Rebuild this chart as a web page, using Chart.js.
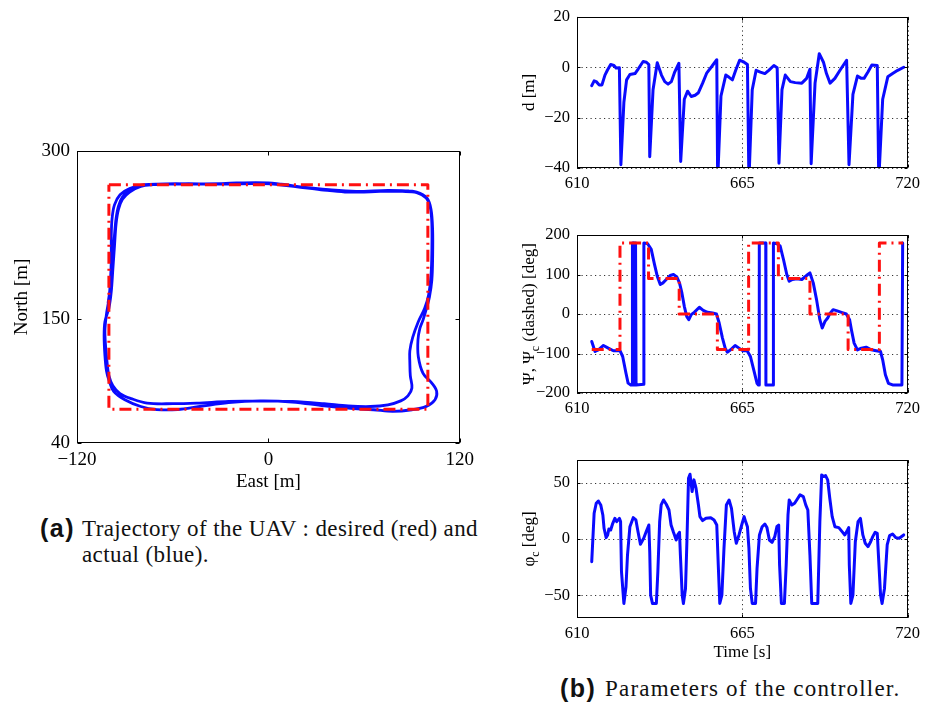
<!DOCTYPE html>
<html>
<head>
<meta charset="utf-8">
<script src="https://cdn.jsdelivr.net/npm/chart.js@4.4.1/dist/chart.umd.min.js"></script>
<style>
  body { margin: 0; background: #fff; width: 926px; height: 709px; position: relative; overflow: hidden; }
  canvas { position: absolute; }
  .cap { position: absolute; font-family: "Liberation Serif", serif; color: #111; white-space: nowrap; }
  .tag { font-family: "Liberation Sans", Arial, sans-serif; font-weight: bold; letter-spacing: 1.5px; }
</style>
</head>
<body>
<canvas id="traj"></canvas>
<canvas id="dist"></canvas>
<canvas id="heading"></canvas>
<canvas id="roll"></canvas>

<div class="cap tag" style="left:40px;top:514px;font-size:25px">(a)</div>
<div class="cap" style="left:82px;top:516px;font-size:23px;letter-spacing:0.4px">Trajectory of the UAV : desired (red) and</div>
<div class="cap" style="left:82px;top:542px;font-size:23px;letter-spacing:0.4px">actual (blue).</div>
<div class="cap tag" style="left:560px;top:674px;font-size:25px">(b)</div>
<div class="cap" style="left:605px;top:676px;font-size:23px;letter-spacing:1.2px">Parameters of the controller.</div>

<script>
// tick values
const timeTicks = [610, 665, 720];
const dTicks = [-40, -20, 0, 20];
const psiTicks = [-200, -100, 0, 100, 200];
const phiTicks = [-50, 0, 50];
const eastTicks = [-120, 0, 120];
const northTicks = [40, 150, 300];

// desired square path (waypoints)
const desiredEast = [-100, 100, 100, -100, -100];
const desiredNorth = [270, 270, 70, 70, 270];

// flown path, about two and a half laps (counter-clockwise)
const actualEast = [
  // lap 1
  88, 75, 60, 48, 33, 18, 3, -12, -30, -50, -66, -78, -87, -93, -96.5, -98, -98.5, -98.5, -99, -100,
  -101.5, -102.5, -102, -101, -100, -97.5, -93, -86, -76, -60, -45, -25, -5, 15, 35, 50, 64, 75, 83, 87.5,
  90, 89, 88.7, 88.7, 90.5, 94, 98, 100.5, 102, 102.5, 102.5, 101.5, 99, 93,
  // lap 2
  84, 70, 55, 40, 25, 8, -10, -30, -50, -62, -72, -80, -87, -91.5, -94, -95.5, -96.5, -97.5, -98.5, -100,
  -102.5, -103, -102.5, -101.5, -100, -97, -90, -80, -70, -57, -43, -25, -5, 15, 35, 50, 66, 78, 90, 99,
  104.5, 105.5, 102.5, 97, 94, 93.8, 95, 97, 99.2, 101, 102.5, 103, 103, 102, 99.5, 93,
  // lap 3
  84, 70, 55, 38, 20, 0, -20, -40, -58, -70, -80, -87, -91.5, -94, -95.5, -96.5, -97.5, -98.5, -100.5
];
const actualNorth = [
  264.5, 265, 264, 263.5, 265.5, 268, 270.5, 271.5, 271, 270.5, 270.5, 270, 266.5, 261, 252, 240, 225, 205, 185, 168,
  155, 140, 125, 110, 100, 91, 84, 79.5, 75.5, 75, 75.5, 77, 77.5, 77, 75, 73, 72.5, 74, 77.5, 82,
  89, 100, 112, 122, 134, 148, 160, 172, 190, 210, 235, 250, 258, 263,
  264, 264, 263.5, 265, 267, 270.5, 271, 270.5, 271, 270.5, 270, 268.5, 263.5, 257, 248, 235, 215, 195, 175, 160,
  148, 135, 118, 104, 96, 86, 78.5, 72.5, 69.8, 69.8, 72.5, 76, 77.5, 76.5, 73, 71, 69.6, 68.2, 69.6, 72.6,
  78.5, 86, 93.3, 102, 117, 131.8, 142, 149.6, 160, 170, 185, 205, 230, 248, 258, 263.5,
  264.5, 264.5, 264, 265.5, 268, 271.5, 271.5, 270.5, 271, 270.5, 269, 265, 259, 251, 240, 225, 205, 185, 165
];

// cross-track distance d [m]
const dTime = [
  614.9, 615.7, 616.4, 617.4, 618.3, 619.3, 620.1, 621.2, 622.3, 623.0, 624.1, 624.6, 625.6, 626.5, 627.6,
  629.3, 630.4, 632.0, 633.1, 633.9, 634.2, 635.3, 636.7, 638.1, 639.2, 640.3, 641.4, 642.5, 643.9, 644.5,
  645.7, 646.8, 648.0, 649.3, 650.4, 651.8, 653.2, 654.9, 656.5, 656.8, 657.9, 659.5, 660.6, 661.7, 662.8,
  664.1, 665.6, 666.7, 667.2, 668.3, 669.6, 671.0, 672.5, 673.8, 675.5, 676.6, 677.2, 678.2, 679.3, 681.0,
  682.6, 684.8, 686.4, 687.5, 687.9, 689.2, 690.6, 692.0, 693.0, 694.2, 695.8, 697.5, 699.7, 700.5, 701.8,
  703.3, 704.6, 705.5, 706.8, 708.1, 709.9, 710.4, 711.7, 713.4, 715.0, 716.7, 718.7
];
const dValue = [
  -7.3, -5.4, -5.7, -7, -7, -3.1, -1.2, 1.1, 0.7, -0.3, -0.2, -38.7, -13.9, -5, -2.9,
  -2.5, -0.6, 2.3, 2, 1.1, -35.5, -8.9, 1.8, -3.1, -5.7, -6.7, -5.7, -1.9, 1.6, -37.4,
  -12.7, -9.5, -11.6, -11.1, -10.1, -6.3, -2.2, 0.4, 3, -45, -11.4, -3.1, -4, -5, -1.2,
  2.8, 2, 1.1, -45, -8.9, -1.2, -1.9, -2.5, -1.2, 0.7, -0.2, -38.1, -8.9, -3.1, -5.7,
  -6.1, -6.3, -4.4, -0.8, -38.3, -6.3, 5.4, 2, -2.5, -6.3, -4.4, -1.2, 2.8, -38.7, -10.8,
  -3.5, -4.4, -4.4, -1.9, 0.9, 0.7, -45, -12.7, -3.8, -2.5, -1.2, 0
];

// heading Psi [deg]
const psiTime = [
  614.9, 616.0, 617.1, 618.8, 620.4, 622.1, 624.3, 625.2, 626.3, 627.0, 627.9, 628.4, 628.45, 628.9, 628.95,
  629.3, 629.35, 629.6, 629.65, 632.2, 632.25, 633.5, 634.7, 635.8, 636.7, 637.7, 638.6, 639.7, 641.0, 642.1,
  643.2, 644.1, 644.9, 645.7, 646.5, 647.2, 648.0, 649.0, 650.7, 652.0, 653.4, 655.1, 656.4, 657.3, 658.4,
  659.3, 660.0, 661.1, 662.6, 663.9, 665.2, 666.6, 667.7, 668.8, 669.9, 670.3, 670.6, 670.65, 672.8, 672.85,
  675.3, 675.35, 676.5, 677.6, 678.7, 679.8, 680.6, 681.7, 683.1, 684.8, 686.8, 687.5, 688.6, 689.7, 690.8,
  691.6, 692.5, 693.4, 694.1, 695.2, 696.3, 698.0, 699.6, 700.7, 701.3, 702.2, 703.3, 704.6, 706.2, 707.9,
  709.5, 711.0, 711.7, 712.6, 713.6, 715.0, 718.1, 718.35
];
const psiValue = [
  -69.5, -95, -90.7, -79.7, -86.4, -93, -93, -107.6, -150, -175, -179.7, -180, 180, 180, -180,
  -180, 180, 180, -180, -178, 180, 178, 163.6, 125, 95.8, 74.6, 78.8, 87.3, 97.5, 100,
  94, 78.8, 53.4, 19.5, -6, -14.4, -1.7, 4.2, 17, 9.3, 4.2, 2.5, 0, -22.9, -61,
  -86.4, -96.6, -90.7, -79.7, -86.4, -93, -93, -107.6, -141.5, -175.4, -179.7, -180, 180, 180, -180,
  -180, 180, 178, 172, 138, 100, 83, 87.3, 89, 87.3, 100, 104, 78.8, 36.4, -14.4,
  -35.6, -18.6, -10.2, 0.8, 11, 8.5, 4.2, 0, -14.4, -39.8, -73.7, -90.7, -86.4, -83.9, -90.7,
  -93, -95, -116, -154, -175.4, -179.7, -179.7, 180
];

// commanded heading Psi_c [deg], held between switches
const psiCmdTime = [614.9, 624.3, 633.8, 644.0, 656.7, 667.1, 677.0, 687.5, 700.2, 710.6, 718.5];
const psiCmdValue = [-90, 180, 90, 0, -90, 180, 90, 0, -90, 180, 180];

// commanded roll phi_c [deg]
const phiTime = [
  614.9, 615.7, 616.4, 617.1, 617.9, 618.6, 619.0, 619.7, 620.2, 620.6, 621.2, 621.9, 622.6, 623.2, 624.1,
  624.5, 624.8, 625.6, 626.3, 626.8, 627.6, 628.7, 629.6, 630.3, 631.1, 632.2, 633.1, 633.9, 634.2, 634.5,
  635.1, 636.4, 636.9, 637.5, 638.0, 638.8, 639.7, 640.6, 641.3, 642.1, 643.0, 643.5, 644.1, 644.4, 645.0,
  645.4, 646.1, 646.6, 647.1, 647.6, 648.3, 648.9, 649.6, 650.4, 650.9, 651.8, 652.9, 654.5, 655.6, 656.5,
  657.0, 657.5, 658.2, 658.9, 659.7, 660.6, 661.4, 662.3, 663.0, 663.9, 664.8, 665.6, 666.1, 666.7, 667.2,
  667.7, 668.3, 669.4, 669.9, 670.7, 671.6, 672.5, 673.2, 674.0, 674.9, 675.8, 676.5, 677.1, 677.4, 678.0,
  679.0, 679.6, 680.2, 680.6, 681.5, 682.4, 683.1, 684.2, 685.3, 686.1, 686.8, 687.5, 688.1, 690.1, 690.8,
  691.4, 692.1, 692.7, 693.4, 694.1, 694.9, 695.8, 697.1, 698.2, 699.1, 700.0, 700.4, 700.6, 701.1, 701.8,
  702.6, 703.5, 704.3, 705.1, 705.9, 706.8, 707.7, 708.4, 709.2, 709.9, 710.4, 711.0, 711.5, 712.3, 713.2,
  714.0, 715.0, 716.1, 717.2, 718.7
];
const phiValue = [
  -20.1, 22.8, 31.7, 33.7, 30.2, 21.3, 9.5, 1.2, 3.6, 8.9, 8, 13.9, 18.3, 15.4, 18.3,
  15.4, -29, -57.1, -42.3, -14.2, 10.9, 18.9, 16.9, 6.5, -4.7, 0.6, 7.1, 12.4, -11.2, -49.7,
  -57.1, -57.1, -29, 15.4, 30.2, 34.6, 30.8, 25.7, 12.4, 5.9, -0.9, 3.6, 5.9, -14.2, -49.7,
  -57.1, -43.8, 0.6, 53.8, 57.4, 42, 52.4, 45, 30.2, 19.8, 16.3, 18.3, 18.9, 16.9, 12.4,
  -23, -57.1, -49.7, -8.3, 30.2, 34.6, 27.2, 6.5, -3.8, 3.6, 12.4, 19.8, 15.4, 10.9, -8.3,
  -43.8, -57.1, -57.1, -26, 3.6, 10.9, 13.3, 10.1, -0.9, -3, 2.1, 10.9, 12.4, -23, -57.1,
  -57.1, -23, 21.3, 34.6, 30.2, 31.7, 34.6, 39.1, 37.6, 30.2, 25.7, -14.2, -57.1, -57.1, 15.4,
  56.8, 55.3, 56.2, 52.4, 36.1, 19.8, 10.9, 10.1, 6.5, 3.6, 8, 10.1, -23, -57.1, -49.7,
  -2.4, 15.4, 18.3, 3.6, -3.8, -6.8, -2.4, 2.1, 5.9, 5, -20.1, -49.7, -57.1, -43.8, -5.3,
  3, 4.4, 1.2, 0.6, 3.6
];

const BLUE = '#0a0aff';
const RED = '#ff1010';
const SERIF = '"Liberation Serif", "Times New Roman", serif';

Chart.defaults.font.family = SERIF;
Chart.defaults.color = '#000';

const pts = (xs, ys) => xs.map((v, i) => ({ x: v, y: ys[i] }));
const minus = v => String(v).replace('-', '\u2212');

// draws text made of normal and subscript pieces, centred on (x, y)
function drawRich(ctx, parts, x, y, size, vertical) {
  ctx.save();
  ctx.translate(x, y);
  if (vertical) ctx.rotate(-Math.PI / 2);
  ctx.fillStyle = '#000';
  ctx.textBaseline = 'middle';
  let total = 0;
  parts.forEach(p => {
    ctx.font = (p.sub ? size * 0.7 : size) + 'px ' + SERIF;
    p.w = ctx.measureText(p.t).width;
    total += p.w;
  });
  let cx = -total / 2;
  parts.forEach(p => {
    ctx.font = (p.sub ? size * 0.7 : size) + 'px ' + SERIF;
    ctx.fillText(p.t, cx, p.sub ? size * 0.32 : 0);
    cx += p.w;
  });
  ctx.restore();
}

// MATLAB-like axes: boxed frame, inward ticks, optional dotted grid, axis titles
const axesBox = {
  id: 'axesBox',
  beforeDatasetsDraw(chart, args, o) {
    if (!o.dotted) return;
    const { ctx, chartArea: a, scales: { x, y } } = chart;
    ctx.save();
    ctx.strokeStyle = '#333';
    ctx.lineWidth = 1;
    ctx.setLineDash([1.2, 3.3]);
    ctx.beginPath();
    x.ticks.forEach(t => {
      const p = Math.round(x.getPixelForValue(t.value)) + 0.5;
      ctx.moveTo(p, a.top); ctx.lineTo(p, a.bottom);
    });
    y.ticks.forEach(t => {
      const p = Math.round(y.getPixelForValue(t.value)) + 0.5;
      ctx.moveTo(a.left, p); ctx.lineTo(a.right, p);
    });
    ctx.stroke();
    ctx.restore();
  },
  afterDatasetsDraw(chart, args, o) {
    const { ctx, chartArea: a, scales: { x, y } } = chart;
    ctx.save();
    ctx.strokeStyle = '#000';
    ctx.lineWidth = 1;
    const l = Math.round(a.left) + 0.5, r = Math.round(a.right) - 0.5;
    const t = Math.round(a.top) + 0.5, b = Math.round(a.bottom) - 0.5;
    ctx.strokeRect(l, t, r - l, b - t);
    const len = o.tick;
    ctx.beginPath();
    x.ticks.forEach(tk => {
      const p = Math.round(x.getPixelForValue(tk.value)) + 0.5;
      ctx.moveTo(p, b); ctx.lineTo(p, b - len);
      ctx.moveTo(p, t); ctx.lineTo(p, t + len);
    });
    y.ticks.forEach(tk => {
      const p = Math.round(y.getPixelForValue(tk.value)) + 0.5;
      ctx.moveTo(l, p); ctx.lineTo(l + len, p);
      ctx.moveTo(r, p); ctx.lineTo(r - len, p);
    });
    ctx.stroke();
    ctx.restore();
    if (o.yTitle) drawRich(ctx, o.yTitle, a.left - o.yTitleGap, (a.top + a.bottom) / 2, o.titleSize, true);
    if (o.xTitle) drawRich(ctx, o.xTitle, (a.left + a.right) / 2, a.bottom + o.xTitleGap, o.titleSize, false);
  }
};

function axis(min, max, ticks, size, fitKey, fitVal) {
  return {
    type: 'linear', min, max,
    afterBuildTicks: s => { s.ticks = ticks.map(v => ({ value: v })); },
    afterFit: s => { s[fitKey] = fitVal; },
    grid: { display: false, drawTicks: false },
    border: { display: false },
    ticks: { font: { size, family: SERIF }, color: '#000', padding: fitKey === 'width' ? 7 : 6, maxRotation: 0, callback: minus }
  };
}

function makeChart(id, box, lay, datasets, xAxis, yAxis, decor) {
  const cv = document.getElementById(id);
  cv.width = box.w; cv.height = box.h;
  cv.style.left = box.x + 'px'; cv.style.top = box.y + 'px';
  return new Chart(cv, {
    type: 'scatter',
    data: { datasets },
    options: {
      responsive: false, animation: false, devicePixelRatio: 1, events: [],
      layout: { padding: { top: lay.top, right: lay.right, left: 0, bottom: 0 } },
      plugins: { legend: { display: false }, tooltip: { enabled: false }, axesBox: decor },
      scales: { x: xAxis, y: yAxis }
    },
    plugins: [axesBox]
  });
}

const line = (data, color, extra) => Object.assign({
  data, showLine: true, borderColor: color, borderWidth: 3, pointRadius: 0,
  tension: 0, borderJoinStyle: 'round', borderCapStyle: 'round'
}, extra || {});
const dashDot = { borderDash: [12, 5, 2, 5], borderCapStyle: 'butt', borderWidth: 3 };

// (a) trajectory
makeChart('traj', { x: 0, y: 130, w: 480, h: 370 }, { top: 21, right: 20 },
  [
    line(pts(desiredEast, desiredNorth), RED, dashDot),
    line(pts(actualEast, actualNorth), BLUE, { tension: 0.35, borderWidth: 2.8 })
  ],
  axis(-120, 120, eastTicks, 19, 'height', 57),
  axis(40, 300, northTicks, 19, 'width', 77),
  { tick: 4, titleSize: 19, dotted: false,
    yTitle: [{ t: 'North [m]' }], yTitleGap: 55,
    xTitle: [{ t: 'East [m]' }], xTitleGap: 39 });

// (b) cross-track distance
makeChart('dist', { x: 520, y: 0, w: 406, h: 200 }, { top: 11, right: 16 },
  [line(pts(dTime, dValue), BLUE)],
  axis(610, 720, timeTicks, 16.5, 'height', 32),
  axis(-40, 20, dTicks, 16.5, 'width', 57),
  { tick: 3, titleSize: 17, dotted: true, yTitle: [{ t: 'd [m]' }], yTitleGap: 47 });

// (b) heading and commanded heading
makeChart('heading', { x: 520, y: 200, w: 406, h: 220 }, { top: 35, right: 16 },
  [
    line(pts(psiCmdTime, psiCmdValue), RED, Object.assign({ stepped: 'before' }, dashDot)),
    line(pts(psiTime, psiValue), BLUE)
  ],
  axis(610, 720, timeTicks, 16.5, 'height', 27),
  axis(-200, 200, psiTicks, 16.5, 'width', 57),
  { tick: 3, titleSize: 17, dotted: true,
    yTitle: [{ t: '\u03A8, \u03A8' }, { t: 'c', sub: true }, { t: ' (dashed) [deg]' }], yTitleGap: 47 });

// (b) commanded roll
makeChart('roll', { x: 520, y: 420, w: 406, h: 250 }, { top: 40, right: 16 },
  [line(pts(phiTime, phiValue), BLUE)],
  axis(610, 720, timeTicks, 16.5, 'height', 52),
  axis(-70, 70, phiTicks, 16.5, 'width', 57),
  { tick: 3, titleSize: 17, dotted: true,
    yTitle: [{ t: '\u03C6' }, { t: 'c', sub: true }, { t: ' [deg]' }], yTitleGap: 47,
    xTitle: [{ t: 'Time [s]' }], xTitleGap: 35 });
</script>
</body>
</html>
